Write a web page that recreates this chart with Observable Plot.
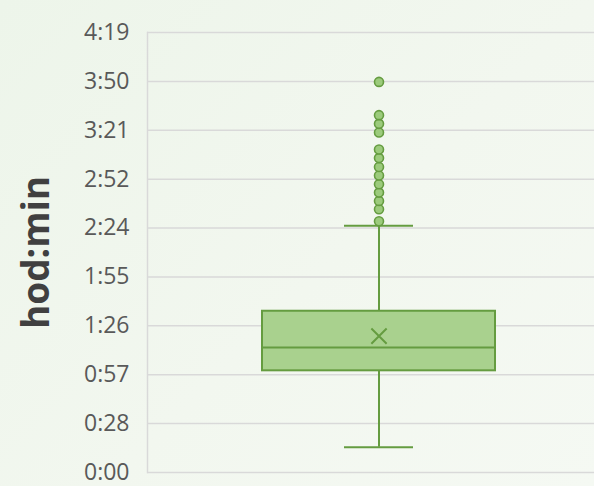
<!DOCTYPE html>
<html>
<head>
<meta charset="utf-8">
<script src="https://cdn.jsdelivr.net/npm/d3@7"></script>
<script src="https://cdn.jsdelivr.net/npm/@observablehq/plot@0.6"></script>
<style>
  html, body { margin: 0; padding: 0; }
  body {
    width: 594px; height: 486px; overflow: hidden;
    background: linear-gradient(135deg, #edf5ea 0%, #f2f7ef 55%, #f5f9f3 100%);
    font-family: "Open Sans", sans-serif;
  }
  svg { display: block; background: transparent; }
</style>
</head>
<body>
<div id="chart"></div>
<script>
// ---- data (minutes) ----
const categories = ["A"];
const lowerWhisker = [14.9];
const q1 = [59.9];
const median = [73.6];
const q3 = [95.0];
const upperWhisker = [145.3];
const mean = [80.3];
const outliers = [148.0, 155.1, 160.0, 164.9, 169.8, 175.0, 180.0, 185.2, 190.3, 200.3, 205.4, 210.5, 230.1];
const tickValues = [0, 28.8, 57.6, 86.4, 115.2, 144, 172.8, 201.6, 230.4, 259.2];
const tickLabels = ["0:00", "0:28", "0:57", "1:26", "1:55", "2:24", "2:52", "3:21", "3:50", "4:19"];
const axisTitle = "hod:min";

const stats = categories.map((c, i) => ({
  c, lo: lowerWhisker[i], q1: q1[i], med: median[i], q3: q3[i], hi: upperWhisker[i], mean: mean[i]
}));
const outlierData = outliers.map(v => ({c: categories[0], v}));

const green = "#a9d18e";
const dark = "#659c40";

const chart = Plot.plot({
  width: 594,
  height: 486,
  marginLeft: 147,
  marginRight: 0,
  marginTop: 32,
  marginBottom: 14,
  style: {background: "transparent", fontFamily: "Open Sans, sans-serif"},
  x: {type: "band", domain: categories, range: [147, 610], padding: 0.33, axis: null},
  y: {domain: [0, 259.2], axis: null},
  marks: [
    Plot.gridY(tickValues, {stroke: "#d9d9d9", strokeOpacity: 1, strokeWidth: 1.5}),
    Plot.frame({anchor: "left", stroke: "#d9d9d9", strokeWidth: 1.5}),
    Plot.axisY(tickValues, {
      tickSize: 0, tickPadding: 18,
      fill: "#595959", fontSize: 23,
      tickFormat: d => tickLabels[tickValues.indexOf(d)], label: null
    }),
    Plot.ruleX(stats, {x: "c", y1: "lo", y2: "q1", stroke: dark, strokeWidth: 2}),
    Plot.ruleX(stats, {x: "c", y1: "q3", y2: "hi", stroke: dark, strokeWidth: 2}),
    Plot.tickY(stats, {x: "c", y: "lo", stroke: dark, strokeWidth: 2, insetLeft: 82, insetRight: 82}),
    Plot.tickY(stats, {x: "c", y: "hi", stroke: dark, strokeWidth: 2, insetLeft: 82, insetRight: 82}),
    Plot.barY(stats, {x: "c", y1: "q1", y2: "q3", fill: green, stroke: dark, strokeWidth: 2}),
    Plot.tickY(stats, {x: "c", y: "med", stroke: dark, strokeWidth: 2}),
    Plot.dot(stats, {x: "c", y: "mean", symbol: "times", r: 7, stroke: dark, strokeWidth: 2}),
    Plot.dot(outlierData, {x: "c", y: "v", r: 4.5, fill: "#9ccb7c", stroke: dark, strokeWidth: 1.6}),
    Plot.text([axisTitle], {
      frameAnchor: "left", dx: -110, rotate: -90, text: d => d,
      fontSize: 37, fontWeight: "bold", fill: "#404040", textAnchor: "middle", lineAnchor: "middle"
    })
  ]
});
document.getElementById("chart").append(chart);
</script>
</body>
</html>
